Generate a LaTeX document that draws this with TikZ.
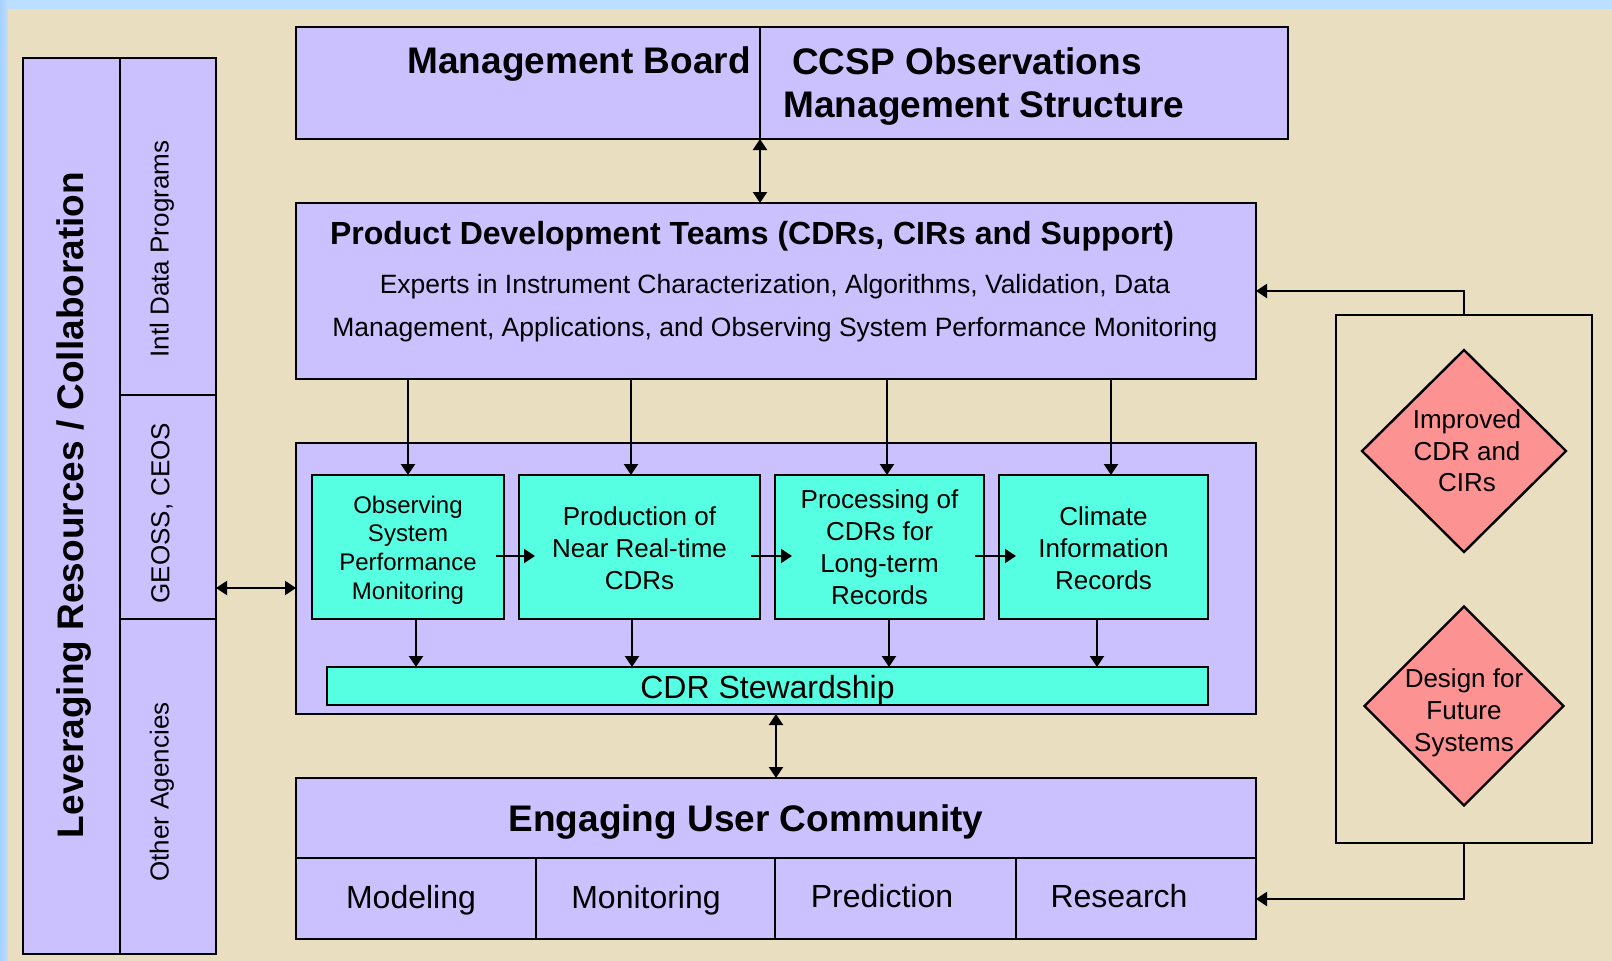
\documentclass[tikz,border=0pt]{standalone}
\usepackage{fontspec}
\setmainfont{Liberation Sans}
\usetikzlibrary{arrows.meta,shapes.geometric}
\definecolor{bgc}{RGB}{233,223,192}
\definecolor{lav}{RGB}{204,193,255}
\definecolor{cyanc}{RGB}{86,255,226}
\definecolor{salm}{RGB}{252,146,145}
\definecolor{blueb}{RGB}{188,223,255}
\definecolor{bluea}{RGB}{168,208,252}
\newcommand\myfs[2]{\fontsize{#1pt}{#2pt}\selectfont}
\begin{document}
\begin{tikzpicture}[x=1pt,y=-1pt,
  box/.style={draw, line width=2.6pt, fill=lav, inner sep=0pt, outer sep=0pt},
  cbox/.style={box, fill=cyanc, align=center},
  frm/.style={draw, line width=2.4pt, inner sep=0pt, outer sep=0pt},
  dia/.style={diamond, draw, line width=2.4pt, fill=salm, inner sep=0pt, outer sep=0pt},
  txt/.style={inner sep=0pt, align=center},
  tip/.tip={Triangle[length=11pt,width=14pt]},
  arr/.style={-tip, line width=2.2pt},
  dbl/.style={tip-tip, line width=2.2pt}]
\useasboundingbox (0,0) rectangle (1612,961);
\fill[blueb] (0,0) rectangle (1612,961);
\shade[left color=bluea, right color=blueb] (0,0) rectangle (8,961);
\fill[bgc] (8,9) rectangle (1612,961);

% Management board
\node[box, minimum width=992pt, minimum height=112pt] (mgmt) at (792,83) {};
\coordinate (mdiv) at (760,83);
\draw[line width=2.2pt] (mgmt.north -| mdiv) -- (mgmt.south -| mdiv);
\node[txt, anchor=east, font=\myfs{37}{44}\bfseries] (mbt) at (751,64) {Management Board};
\node[txt, font=\myfs{37}{44}\bfseries] (ccsp1) at (967,61) {CCSP Observations};
\node[txt, font=\myfs{37}{44}\bfseries] (ccsp2) at (984,109) {Management Structure};

% Product development teams
\node[box, minimum width=960pt, minimum height=176pt] (pdt) at (776,291) {};
\node[txt, font=\myfs{32}{38}\bfseries] (pdtt) at (752,236) {Product Development Teams (CDRs, CIRs and Support)};
\node[txt, font=\myfs{26.5}{43}] (pdtd) at (775,308) {Experts in Instrument Characterization, Algorithms, Validation, Data\\Management, Applications, and Observing System Performance Monitoring};

% Process box
\node[box, minimum width=960pt, minimum height=271pt] (proc) at (776,578.5) {};
\node[cbox, minimum width=192pt, minimum height=144pt] (c1) at (408,547) {};
\node[txt, font=\myfs{24}{28.8}] (c1t) at (408,550) {Observing\\System\\Performance\\Monitoring};
\node[cbox, minimum width=241pt, minimum height=144pt] (c2) at (639.5,547) {};
\node[txt, font=\myfs{26}{32}] (c2t) at (639.5,548) {Production of\\Near Real-time\\CDRs};
\node[cbox, minimum width=209pt, minimum height=144pt, font=\myfs{26}{32}] (c3) at (879.5,547) {Processing of\\CDRs for\\Long-term\\Records};
\node[cbox, minimum width=209pt, minimum height=144pt] (c4) at (1103.5,547) {};
\node[txt, font=\myfs{26}{32}] (c4t) at (1103.5,548) {Climate\\Information\\Records};
\node[cbox, minimum width=881pt, minimum height=38pt] (stew) at (767.5,686) {};
\node[txt, font=\myfs{32}{36}] (stewt) at (767.5,690) {CDR Stewardship};

% Engaging user community
\node[box, minimum width=960pt, minimum height=161pt] (eng) at (776,858.5) {};
\node[txt, font=\myfs{37}{44}\bfseries] (engt) at (746,822) {Engaging User Community};
\node[box, minimum width=240pt, minimum height=81pt] (mod) at (416,898.5) {};
\node[box, minimum width=239pt, minimum height=81pt] (mon) at (655.5,898.5) {};
\node[box, minimum width=241pt, minimum height=81pt] (pred) at (895.5,898.5) {};
\node[box, minimum width=240pt, minimum height=81pt] (res) at (1136,898.5) {};
\node[txt, font=\myfs{32}{38}] (modt) at (411,900) {Modeling};
\node[txt, font=\myfs{32}{38}] (mont) at (646,900) {Monitoring};
\node[txt, font=\myfs{32}{38}] (predt) at (882,896) {Prediction};
\node[txt, font=\myfs{32}{38}] (rest) at (1119,896) {Research};

% Left column
\node[box, minimum width=97pt, minimum height=896pt] (lev) at (71.5,506) {};
\node[box, minimum width=96pt, minimum height=337pt] (intl) at (168,226.5) {};
\node[box, minimum width=96pt, minimum height=224pt] (geoss) at (168,507) {};
\node[box, minimum width=96pt, minimum height=335pt] (other) at (168,786.5) {};
\node[txt, rotate=90, font=\myfs{37}{44}\bfseries] (levt) at (74,505) {Leveraging Resources / Collaboration};
\node[txt, rotate=90, font=\myfs{26}{30}] (intlt) at (162,249) {Intl Data Programs};
\node[txt, rotate=90, font=\myfs{26}{30}] (geosst) at (162,513) {GEOSS, CEOS};
\node[txt, rotate=90, font=\myfs{26}{30}] (othert) at (162,792) {Other Agencies};

% Right frame with diamonds
\node[frm, minimum width=256pt, minimum height=528pt] (frame) at (1464,579) {};
\node[dia, minimum width=204pt, minimum height=202pt] (d1) at (1464,451) {};
\node[txt, font=\myfs{26}{31.5}] (d1t) at (1467,451) {Improved\\CDR and\\CIRs};
\node[dia, minimum width=199pt, minimum height=199pt] (d2) at (1464,706) {};
\node[txt, font=\myfs{26}{32}] (d2t) at (1464,713) {Design for\\Future\\Systems};

% Connectors
\draw[dbl] (mgmt.south -| mdiv) -- (pdt.north -| mdiv);
\coordinate (lr) at (200,588);
\draw[dbl] (geoss.east |- lr) -- (proc.west |- lr);
\draw[dbl] (proc.south) -- (eng.north);

\coordinate (x1) at (408,0); \coordinate (x2) at (631,0);
\coordinate (x3) at (887,0); \coordinate (x4) at (1111,0);
\draw[arr] (pdt.south -| x1) -- (c1.north -| x1);
\draw[arr] (pdt.south -| x2) -- (c2.north -| x2);
\draw[arr] (pdt.south -| x3) -- (c3.north -| x3);
\draw[arr] (pdt.south -| x4) -- (c4.north -| x4);

\coordinate (s1) at (416,0); \coordinate (s2) at (632,0);
\coordinate (s3) at (889,0); \coordinate (s4) at (1097,0);
\draw[arr] (c1.south -| s1) -- (stew.north -| s1);
\draw[arr] (c2.south -| s2) -- (stew.north -| s2);
\draw[arr] (c3.south -| s3) -- (stew.north -| s3);
\draw[arr] (c4.south -| s4) -- (stew.north -| s4);

\coordinate (hy) at (0,556);
\draw[arr] ([xshift=-8pt]c1.east |- hy) -- ([xshift=16pt]c2.west |- hy);
\draw[arr] ([xshift=-9pt]c2.east |- hy) -- ([xshift=17pt]c3.west |- hy);
\draw[arr] ([xshift=-9pt]c3.east |- hy) -- ([xshift=17pt]c4.west |- hy);

\coordinate (ty) at (0,291);
\draw[arr] (frame.north) |- (pdt.east |- ty);
\coordinate (by) at (0,899);
\draw[arr] (frame.south) |- (res.east |- by);
\end{tikzpicture}
\end{document}
